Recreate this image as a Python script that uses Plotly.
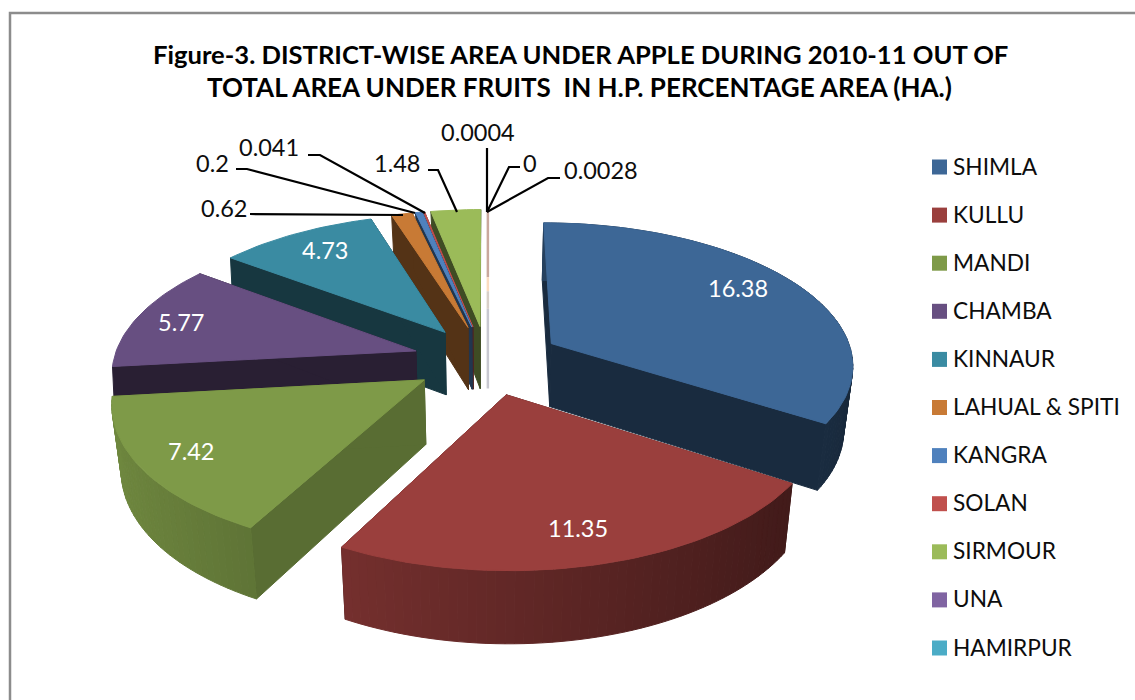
import math
import plotly.graph_objects as go

# District shares of fruit area, in the order they sit clockwise round the pie
DISTRICTS = ["SHIMLA", "KULLU", "MANDI", "CHAMBA", "KINNAUR", "LAHUAL & SPITI",
             "KANGRA", "SOLAN", "SIRMOUR", "UNA", "HAMIRPUR", "BILASPUR"]
SHARES = [16.38, 11.35, 7.42, 5.77, 4.73, 0.62, 0.2, 0.041, 1.48, 0.0004, 0, 0.0028]
SHARE_TEXT = ["16.38", "11.35", "7.42", "5.77", "4.73", "0.62", "0.2", "0.041",
              "1.48", "0.0004", "0", "0.0028"]
COLORS = ["#3d6796", "#9a3f3d", "#7e9a48", "#674f81", "#3a8ba2", "#c87a35",
          "#4f81bd", "#c0504d", "#9bbb59", "#8064a2", "#4bacc6", "#f79646"]
TITLE_LINES = ["Figure-3. DISTRICT-WISE AREA UNDER APPLE DURING 2010-11 OUT OF",
               "TOTAL AREA UNDER FRUITS  IN H.P. PERCENTAGE AREA (HA.)"]
LEGEND_COUNT = 11

# Camera and extrusion of the exploded 3-D pie, in page pixels
VX, VY = 487, 360
FOCAL_X, FOCAL_Y = 310, 145
PERSPECTIVE = 0.14
EXPLODE = 0.24
RADIUS = 0.975
FONT = "Lato"

# Shade of the radial cut faces relative to each slice's top colour
CUT_SHADE = [0.42, 0.42, 0.71, 0.40, 0.40, 0.42, 0.42, 0.42, 0.41, 1, 1, 1]

# Painter's order: farthest slices first
FAR_SLICES = [8, 7, 6, 5]
NEAR_SLICES = [4, 0, 3, 2, 1]
HAIRLINE_SLICE = 9
# From this slice on the curved wall faces away from the viewer
FIRST_BACK_SLICE = 3

# Text anchors: inside labels and the callouts with their leader lines
INSIDE_TEXT = {0: (738, 288), 1: (578, 528), 2: (191, 451), 3: (181, 322), 4: (325, 250)}
CALLOUTS = {
    5: ((224, 208), [(250, 214), (403, 215)]),
    6: ((212, 163), [(236, 169), (247, 169), (415, 213)]),
    7: ((269, 147), [(308, 155), (320, 155), (425, 213)]),
    8: ((397, 163), [(428, 170), (438, 170), (457, 212)]),
    9: ((478, 132), [(487, 148), (487, 212)]),
    10: ((530, 163), [(520, 167), (509, 167), (487, 212)]),
    11: ((601, 170), [(560, 178), (548, 178), (487, 212)]),
}


def shade(color, factor):
    r, g, b = (int(color[i:i + 2], 16) for i in (1, 3, 5))
    return "rgb(%d,%d,%d)" % (r * factor, g * factor, b * factor)


def project(x, y):
    s = 1 / (1 - PERSPECTIVE * y)
    return VX + FOCAL_X * x * s, VY + FOCAL_Y * y * s


def drop(p):
    """Bottom-plane counterpart of a top-plane point."""
    x, y = p
    return VX + (x - VX) * 0.975, y + 63 + (y - 345) * 0.045


def point(apex, deg):
    t = math.radians(deg)
    return project(apex[0] + RADIUS * math.sin(t), apex[1] - RADIUS * math.cos(t))


fig = go.Figure()


def polygon(pts, fill, line_width=1.0):
    fig.add_trace(go.Scatter(
        x=[p[0] for p in pts] + [pts[0][0]], y=[p[1] for p in pts] + [pts[0][1]],
        mode="lines", fill="toself", fillcolor=fill,
        line=dict(color=fill, width=line_width),
        hoverinfo="skip", showlegend=False))


def stroke(pts, color, width):
    fig.add_trace(go.Scatter(x=[p[0] for p in pts], y=[p[1] for p in pts], mode="lines",
                             line=dict(color=color, width=width), hoverinfo="skip",
                             showlegend=False))


total = sum(SHARES)
bounds = [0]
for v in SHARES:
    bounds.append(bounds[-1] + v / total * 360)


def apex_of(i):
    mid = math.radians((bounds[i] + bounds[i + 1]) / 2)
    return EXPLODE * math.sin(mid), -EXPLODE * math.cos(mid)


def draw_slice(i):
    start, end = bounds[i], bounds[i + 1]
    apex = apex_of(i)
    apex_px = project(*apex)
    color = COLORS[i]
    steps = max(2, int((end - start) / 1.5))
    angles = [start + (end - start) * k / steps for k in range(steps + 1)]
    rim = [point(apex, a) for a in angles]
    back_facing = i >= FIRST_BACK_SLICE

    # Radial cut faces sit behind the curved wall
    cut = shade(color, CUT_SHADE[i])
    start_floor = drop(rim[0])
    if back_facing:
        start_floor = (rim[0][0] + 3, start_floor[1])
    polygon([apex_px, rim[0], start_floor, drop(apex_px)], cut)
    polygon([apex_px, rim[-1], drop(rim[-1]), drop(apex_px)], cut)
    # Curved outer wall in shaded strips
    if not back_facing:
        for k in range(steps):
            a = math.radians((angles[k] + angles[k + 1]) / 2)
            polygon([rim[k], rim[k + 1], drop(rim[k + 1]), drop(rim[k])],
                    shade(color, 0.64 - 0.25 * math.sin(a)))
    polygon([apex_px] + rim, color)


for i in FAR_SLICES:
    draw_slice(i)

# The three near-zero slices collapse to one pale hairline, tinted along its length
apex = apex_of(HAIRLINE_SLICE)
apex_px, back = project(*apex), point(apex, bounds[HAIRLINE_SLICE])
floor_px = drop(apex_px)
hair_x = back[0] + 1
hair_stops = [(0.0, 0.58, "#c9a89d"), (0.58, 0.70, "#fbdcc0"), (0.70, 0.85, "#d8cfc8")]
for f0, f1, col in hair_stops:
    stroke([(hair_x, back[1] + (apex_px[1] - back[1]) * f0),
            (hair_x, back[1] + (apex_px[1] - back[1]) * f1)], col, 2.5)
stroke([(hair_x, back[1] + (apex_px[1] - back[1]) * 0.85), (hair_x, floor_px[1])], "#c8c8d0", 2.5)

for i in NEAR_SLICES:
    draw_slice(i)

annotations = []


def text(x, y, s, size=23.5, color="#0d0d0d", bold=False):
    annotations.append(dict(x=x, y=y, text="<b>%s</b>" % s if bold else s, showarrow=False,
                            xref="x", yref="y", xanchor="center", yanchor="middle",
                            font=dict(family=FONT, size=size, color=color)))


for i, (x, y) in INSIDE_TEXT.items():
    text(x, y, SHARE_TEXT[i], color="#ffffff")

for i, (pos, path) in CALLOUTS.items():
    text(pos[0], pos[1], SHARE_TEXT[i])
    stroke(path, "#000000", 2.2)

text(580, 54, TITLE_LINES[0], size=25.6, color="#000000", bold=True)
text(579, 87, TITLE_LINES[1], size=26, color="#000000", bold=True)

# Legend column
for i in range(LEGEND_COUNT):
    y = 167 + 48.1 * i
    fig.add_trace(go.Scatter(x=[939.5], y=[y], mode="markers",
                             marker=dict(symbol="square", size=15, color=COLORS[i]),
                             hoverinfo="skip", showlegend=False))
    annotations.append(dict(x=951, y=y - 1, text=DISTRICTS[i], showarrow=False, xref="x", yref="y",
                            xanchor="left", yanchor="middle",
                            font=dict(family=FONT, size=22.7, color="#0d0d0d")))

fig.update_layout(
    width=1135, height=700, margin=dict(l=0, r=0, t=0, b=0),
    paper_bgcolor="#ffffff", plot_bgcolor="#ffffff", showlegend=False,
    xaxis=dict(range=[0, 1135], visible=False, fixedrange=True),
    yaxis=dict(range=[700, 0], visible=False, fixedrange=True),
    annotations=annotations,
    shapes=[dict(type="rect", xref="x", yref="y", x0=10, y0=13, x1=1145, y1=715,
                 line=dict(color="#8c8c8c", width=2.5), layer="below")],
)

fig.write_html("out.html")
